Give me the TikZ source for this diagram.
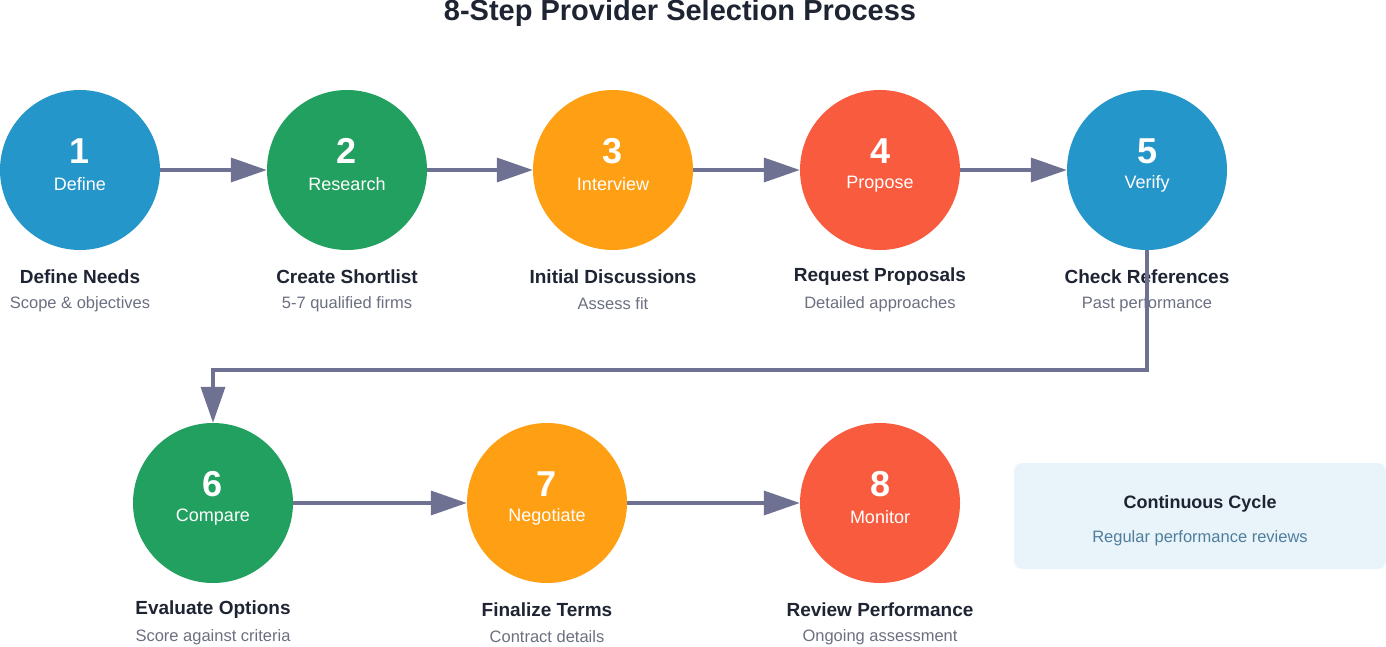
\documentclass[tikz,border=0pt]{standalone}
\usepackage{fontspec}
\setmainfont{Liberation Sans}
\usetikzlibrary{positioning,arrows.meta}
\definecolor{cblue}{HTML}{2496C9}
\definecolor{cgreen}{HTML}{21A05F}
\definecolor{corange}{HTML}{FF9F14}
\definecolor{cred}{HTML}{F95B3F}
\definecolor{cline}{HTML}{6E7191}
\definecolor{ctext}{HTML}{1F2433}
\definecolor{csub}{HTML}{6B6F80}
\begin{document}
\begin{tikzpicture}[x=1pt,y=-1pt,
        step/.style = {circle, minimum size=160pt, inner sep=0pt, fill=#1},
        num/.style = {text=white, font=\fontsize{36}{40}\selectfont\bfseries},
        word/.style = {text=white, font=\fontsize{18}{22}\selectfont},
        head/.style = {text=ctext, font=\fontsize{19}{23}\selectfont\bfseries},
        sub/.style = {text=csub, font=\fontsize{16.5}{20}\selectfont},
        flow/.style = {draw=cline, line width=3.5pt, -{Triangle[length=36pt,width=24pt]}}
        ]
        \useasboundingbox (0,0) rectangle (1386,647);
        \node[text=ctext, font=\fontsize{29}{34}\selectfont\bfseries] (title) at (680,13) {8-Step Provider Selection Process};
        % first row
        \node[step=cblue] (s1) at (80,170) {};
        \node[step=cgreen] (s2) at (347,170) {};
        \node[step=corange] (s3) at (613,170) {};
        \node[step=cred] (s4) at (880,170) {};
        \node[step=cblue] (s5) at (1147,170) {};
        % second row
        \node[step=cgreen] (s6) at (213,503) {};
        \node[step=corange] (s7) at (547,503) {};
        \node[step=cred] (s8) at (880,503) {};
        \foreach \n/\w/\h/\s in {1/Define/Define Needs/Scope \& objectives,
                                 2/Research/Create Shortlist/5-7 qualified firms,
                                 3/Interview/Initial Discussions/Assess fit,
                                 4/Propose/Request Proposals/Detailed approaches,
                                 5/Verify/Check References/Past performance,
                                 6/Compare/Evaluate Options/Score against criteria,
                                 7/Negotiate/Finalize Terms/Contract details,
                                 8/Monitor/Review Performance/Ongoing assessment}{
            \node[num] (n\n) at ([yshift=19pt]s\n.center) {\n};
            \node[word] (w\n) at ([yshift=-14pt]s\n.center) {\w};
            \node[head] (h\n) at ([yshift=-107pt]s\n.center) {\h};
            \node[sub] (t\n) at ([yshift=-134pt]s\n.center) {\s};
        }
        \draw[flow] (s1) -- (s2);
        \draw[flow] (s2) -- (s3);
        \draw[flow] (s3) -- (s4);
        \draw[flow] (s4) -- (s5);
        \coordinate (c1) at (1147,370);
        \coordinate (c2) at (213,370);
        \draw[flow] (s5.south) -- (c1) -- (c2) -- (s6.north);
        \draw[flow] (s6) -- (s7);
        \draw[flow] (s7) -- (s8);
        % side note
        \node[fill=cblue!10, rounded corners=8pt, minimum width=372pt, minimum height=106pt] (cycle) at (1200,516) {};
        \node[head, font=\fontsize{18}{22}\selectfont\bfseries] (ct) at (1200,504) {Continuous Cycle};
        \node[sub, text=cblue!40!csub] (cs) at (1200,538) {Regular performance reviews};
\end{tikzpicture}
\end{document}
